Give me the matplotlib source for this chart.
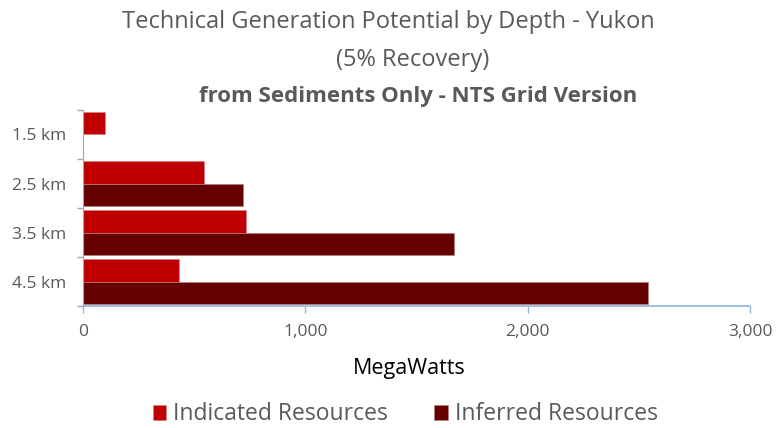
import numpy as np
import matplotlib
matplotlib.use('Agg')
import matplotlib.pyplot as plt

plt.rcParams['font.family'] = ['Open Sans', 'DejaVu Sans']

depths = ['1.5 km', '2.5 km', '3.5 km', '4.5 km']
indicated = [97, 546, 732, 433]
inferred = [0, 720, 1669, 2543]

gray = '#595959'
red = '#C00000'
dark = '#660000'
axis_blue = '#8DB4E2'

fig = plt.figure(figsize=(7.76, 4.28), dpi=100)
ax = fig.add_axes([0.107, 0.285, 0.8595, 0.458])

y = np.arange(len(depths))
h = 0.45
ax.barh(y - h / 2, indicated, height=h, color=red, edgecolor='#D98080',
        linewidth=0.5, label='Indicated Resources')
inf_w = np.where(np.array(inferred) > 0, inferred, np.nan)
ax.barh(y + h / 2, inf_w, height=h, color=dark, edgecolor='#B08080',
        linewidth=0.5, label='Inferred Resources')

ax.set_xlim(0, 3000)
ax.set_ylim(3.5, -0.5)
ax.set_xticks([0, 1000, 2000, 3000])
ax.set_xticklabels(['0', '1,000', '2,000', '3,000'])
ax.set_yticks(y)
ax.set_yticklabels(depths)
ax.set_yticks(np.arange(-0.5, 4, 1), minor=True)
ax.tick_params(axis='y', which='major', length=0, pad=12, labelsize=12.5,
               labelcolor=gray)
ax.tick_params(axis='y', which='minor', length=4, color='#A6A6A6', width=1)
ax.tick_params(axis='x', length=5, color=axis_blue, width=1, pad=8,
               labelsize=12.5, labelcolor=gray)

for s in ['top', 'right']:
    ax.spines[s].set_visible(False)
ax.spines['left'].set_color('#A6A6A6')
ax.spines['bottom'].set_color(axis_blue)
ax.spines['bottom'].set_linewidth(1.2)

ax.set_xlabel('MegaWatts', fontsize=15.5, color='black')
ax.xaxis.set_label_coords(0.489, -0.265)

fig.text(0.501, 0.948, 'Technical Generation Potential by Depth - Yukon',
         ha='center', va='center', fontsize=17, color=gray)
fig.text(0.532, 0.86, '(5% Recovery)', ha='center', va='center',
         fontsize=17, color=gray)
fig.text(0.539, 0.775, 'from Sediments Only - NTS Grid Version',
         ha='center', va='center', fontsize=16, color=gray,
         fontweight='bold')

fig.legend(loc='center', bbox_to_anchor=(0.522, 0.032), ncol=2, frameon=False,
           fontsize=16.5, labelcolor=gray, handlelength=0.6, handleheight=0.6,
           handletextpad=0.3, columnspacing=2.0)

fig.savefig('out.png', dpi=100)
